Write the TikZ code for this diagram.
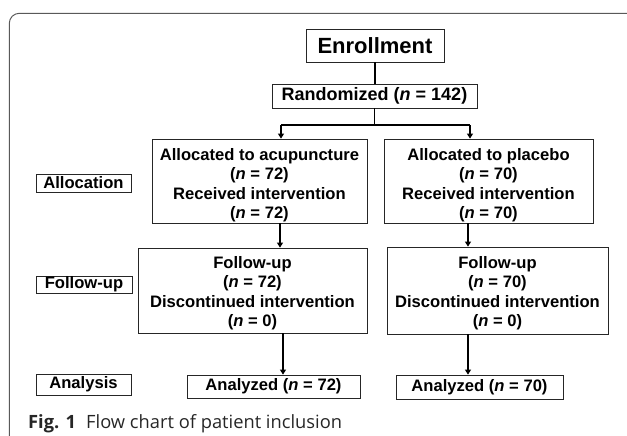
\documentclass[tikz,border=0pt]{standalone}
\usepackage{fontspec}
\setmainfont{Liberation Sans}
\newfontfamily\capfont{Open Sans}
\usetikzlibrary{arrows.meta}
\begin{document}
\begin{tikzpicture}[x=1pt,y=-1pt,
  box/.style={draw=black!85, line width=0.8pt, inner sep=0pt, align=center,
    font=\bfseries\fontsize{16.6}{19.5}\selectfont},
  bigbox/.style={box, font=\bfseries\fontsize{22}{26}\selectfont},
  midbox/.style={box, font=\bfseries\fontsize{18}{21}\selectfont},
  ln/.style={line width=1.1pt, black},
  arr/.style={ln, -{Triangle[width=6pt,length=5pt]}}]
\useasboundingbox (0,0) rectangle (627,436);
\begin{scope}
  \clip (0,0) rectangle (627,436);
  \draw[gray!70!black, line width=1pt, rounded corners=10pt] (9.3,13.3) rectangle (700,520);
\end{scope}

\node[bigbox, minimum width=138pt, minimum height=33pt] (enr) at (375,45.5) {Enrollment};
\node[midbox, minimum width=205pt, minimum height=24pt] (rand) at (374.5,96) {Randomized (\textit{n} = 142)};

\node[box, minimum width=215pt, minimum height=84pt] (al) at (259.5,181)
  {\rule{0pt}{20pt}Allocated to acupuncture\\(\textit{n} = 72)\\Received intervention\\(\textit{n} = 72)};
\node[box, minimum width=209pt, minimum height=84pt] (ar) at (488.5,181)
  {\rule{0pt}{20pt}Allocated to placebo\\(\textit{n} = 70)\\Received intervention\\(\textit{n} = 70)};

\node[box, minimum width=229pt, minimum height=85pt] (fl) at (252.5,290.5)
  {\rule{0pt}{17pt}Follow-up\\(\textit{n} = 72)\\Discontinued intervention\\(\textit{n} = 0)};
\node[box, minimum width=221pt, minimum height=87pt] (fr) at (497.5,290.5)
  {\rule{0pt}{17pt}Follow-up\\(\textit{n} = 70)\\Discontinued intervention\\(\textit{n} = 0)};

\node[box, minimum width=173pt, minimum height=23pt] (anl) at (273.5,386.5) {Analyzed (\textit{n} = 72)};
\node[box, minimum width=167pt, minimum height=24pt] (anr) at (479.5,387) {Analyzed (\textit{n} = 70)};

\node[box, minimum width=95pt, minimum height=18pt] (lalloc) at (83.5,183) {Allocation};
\node[box, minimum width=96pt, minimum height=17pt] (lfol) at (84,284.5) {Follow-up};
\node[box, minimum width=95pt, minimum height=21pt] (lana) at (83.5,384.5) {Analysis};

\node[anchor=base west, inner sep=0pt, text=black!85, font=\capfont\fontsize{18.3}{21}\selectfont] (cap) at (28,428)
  {\textbf{Fig. 1}\hspace{0.55em}Flow chart of patient inclusion};

\coordinate (split) at (374.5,125);
\coordinate (xl) at (281,0);
\coordinate (xr) at (470,0);
\coordinate (xa) at (280,0);
\coordinate (xb) at (468,0);
\coordinate (xc) at (283,0);
\coordinate (xd) at (468,0);

\draw[ln] (enr.south) -- (enr.south |- rand.north);
\draw[ln] (rand.south) -- (split);
\draw[ln] (split -| xl) -- (split -| xr);
\draw[arr] (split -| xl) -- (al.north -| xl);
\draw[arr] (split -| xr) -- (ar.north -| xr);
\draw[arr] (al.south -| xa) -- (fl.north -| xa);
\draw[arr] (ar.south -| xb) -- (fr.north -| xb);
\draw[arr] (fl.south -| xc) -- (anl.north -| xc);
\draw[arr] (fr.south -| xd) -- (anr.north -| xd);
\end{tikzpicture}
\end{document}
